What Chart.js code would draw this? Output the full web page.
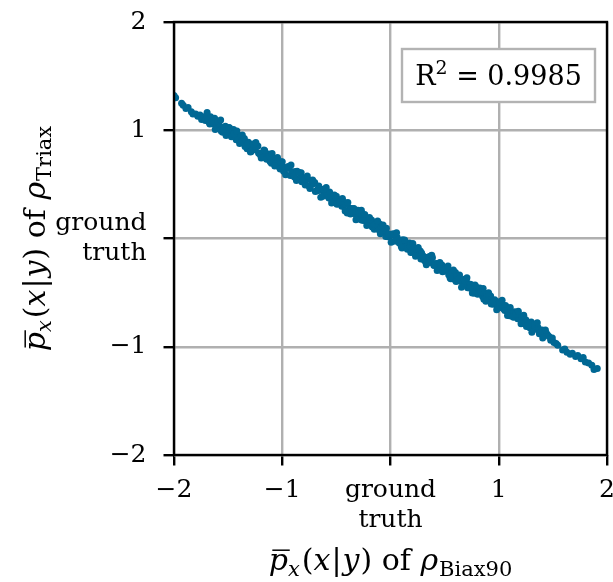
<!DOCTYPE html>
<html>
<head>
<meta charset="utf-8">
<script src="https://cdn.jsdelivr.net/npm/chart.js@4.4.1/dist/chart.umd.min.js"></script>
<style>
  html, body { margin: 0; padding: 0; background: #fff; }
  canvas { display: block; }
</style>
</head>
<body>
<canvas id="chart" width="613" height="582"></canvas>
<script>
// Valores do gráfico
const tickValues = [-2, -1, 0, 1, 2];
const tickLabels = ['\u22122', '\u22121', ['ground', 'truth'], '1', '2'];
const r2Label = '0.9985';

// cauda esquerda (pontos esparsos)
const tailLeftX = [-2.00, -1.985, -1.93, -1.915, -1.89, -1.87, -1.84, -1.825, -1.80, -1.78, -1.76, -1.745, -1.725, -1.71];
const tailLeftY = [1.32, 1.30, 1.25, 1.23, 1.20, 1.21, 1.17, 1.15, 1.15, 1.13, 1.14, 1.10, 1.12, 1.09];

// faixa densa, parte A
const bandAX = [
  -1.700, -1.675, -1.650, -1.625, -1.600, -1.575, -1.550, -1.525, -1.500, -1.475,
  -1.450, -1.425, -1.400, -1.375, -1.350, -1.325, -1.300, -1.275, -1.250, -1.225,
  -1.200, -1.175, -1.150, -1.125, -1.100, -1.075, -1.050, -1.025, -1.000, -0.975,
  -0.950, -0.925, -0.900, -0.875, -0.850, -0.825, -0.800, -0.775, -0.750, -0.725,
  -0.700, -0.675, -0.650, -0.625, -0.600, -0.575, -0.550, -0.525, -0.500, -0.475,
  -0.450, -0.425, -0.400, -0.375, -0.350, -0.325, -0.300, -0.275, -0.250, -0.225,
  -0.200, -0.175, -0.150, -0.125, -0.100, -0.075, -0.050, -0.025, 0.000, 0.025,
  0.050, 0.075, 0.100, 0.125, 0.150, 0.175, 0.200, 0.225, 0.250, 0.275,
  0.300, 0.325, 0.350, 0.375, 0.400, 0.425, 0.450, 0.475, 0.500, 0.525,
  0.550, 0.575, 0.600, 0.625, 0.650, 0.675, 0.700, 0.725, 0.750, 0.775,
  0.800, 0.825, 0.850, 0.875, 0.900, 0.925, 0.950, 0.975, 1.000, 1.025,
  1.050, 1.075, 1.100, 1.125, 1.150, 1.175, 1.200, 1.225, 1.250, 1.275,
  1.300, 1.325, 1.350, 1.375, 1.400, 1.425, 1.450
];
const bandAY = [
  1.138, 1.072, 1.096, 1.110, 1.034, 1.038, 0.982, 1.036, 0.980, 0.994,
  1.008, 0.912, 0.936, 0.890, 0.924, 0.828, 0.862, 0.866, 0.820, 0.854,
  0.768, 0.792, 0.746, 0.780, 0.694, 0.738, 0.702, 0.656, 0.710, 0.644,
  0.658, 0.582, 0.616, 0.620, 0.554, 0.608, 0.532, 0.546, 0.480, 0.504,
  0.518, 0.442, 0.446, 0.390, 0.444, 0.388, 0.402, 0.336, 0.390, 0.344,
  0.298, 0.332, 0.236, 0.280, 0.274, 0.228, 0.262, 0.176, 0.190, 0.194,
  0.138, 0.172, 0.086, 0.120, 0.134, 0.068, 0.082, 0.016, 0.040, 0.044,
  -0.022, -0.018, -0.074, -0.030, -0.076, -0.042, -0.128, -0.104, -0.150, -0.116,
  -0.162, -0.218, -0.174, -0.160, -0.246, -0.232, -0.288, -0.244, -0.300, -0.286,
  -0.362, -0.328, -0.314, -0.390, -0.386, -0.432, -0.388, -0.444, -0.430, -0.506,
  -0.472, -0.458, -0.534, -0.510, -0.556, -0.532, -0.608, -0.584, -0.630, -0.586,
  -0.652, -0.638, -0.714, -0.680, -0.676, -0.742, -0.738, -0.784, -0.750, -0.796,
  -0.772, -0.838, -0.824, -0.880, -0.846, -0.892, -0.888
];

// faixa densa, parte B
const bandBX = [
  -1.6875, -1.6625, -1.6375, -1.6125, -1.5875, -1.5625, -1.5375, -1.5125, -1.4875, -1.4625,
  -1.4375, -1.4125, -1.3875, -1.3625, -1.3375, -1.3125, -1.2875, -1.2625, -1.2375, -1.2125,
  -1.1875, -1.1625, -1.1375, -1.1125, -1.0875, -1.0625, -1.0375, -1.0125, -0.9875, -0.9625,
  -0.9375, -0.9125, -0.8875, -0.8625, -0.8375, -0.8125, -0.7875, -0.7625, -0.7375, -0.7125,
  -0.6875, -0.6625, -0.6375, -0.6125, -0.5875, -0.5625, -0.5375, -0.5125, -0.4875, -0.4625,
  -0.4375, -0.4125, -0.3875, -0.3625, -0.3375, -0.3125, -0.2875, -0.2625, -0.2375, -0.2125,
  -0.1875, -0.1625, -0.1375, -0.1125, -0.0875, -0.0625, -0.0375, -0.0125, 0.0125, 0.0375,
  0.0625, 0.0875, 0.1125, 0.1375, 0.1625, 0.1875, 0.2125, 0.2375, 0.2625, 0.2875,
  0.3125, 0.3375, 0.3625, 0.3875, 0.4125, 0.4375, 0.4625, 0.4875, 0.5125, 0.5375,
  0.5625, 0.5875, 0.6125, 0.6375, 0.6625, 0.6875, 0.7125, 0.7375, 0.7625, 0.7875,
  0.8125, 0.8375, 0.8625, 0.8875, 0.9125, 0.9375, 0.9625, 0.9875, 1.0125, 1.0375,
  1.0625, 1.0875, 1.1125, 1.1375, 1.1625, 1.1875, 1.2125, 1.2375, 1.2625, 1.2875,
  1.3125, 1.3375, 1.3625, 1.3875, 1.4125, 1.4375
];
const bandBY = [
  1.100, 1.124, 1.058, 1.062, 1.066, 0.990, 1.024, 0.968, 1.022, 0.956,
  0.970, 0.914, 0.948, 0.912, 0.856, 0.890, 0.804, 0.848, 0.852, 0.786,
  0.790, 0.814, 0.748, 0.712, 0.746, 0.690, 0.704, 0.708, 0.622, 0.646,
  0.650, 0.604, 0.568, 0.622, 0.546, 0.560, 0.494, 0.548, 0.492, 0.506,
  0.440, 0.484, 0.448, 0.402, 0.406, 0.430, 0.344, 0.368, 0.322, 0.356,
  0.300, 0.314, 0.238, 0.272, 0.276, 0.210, 0.234, 0.168, 0.222, 0.156,
  0.150, 0.104, 0.138, 0.082, 0.116, 0.060, 0.094, 0.018, 0.032, -0.024,
  0.010, -0.026, -0.012, -0.078, -0.064, -0.130, -0.086, -0.092, -0.148, -0.134,
  -0.200, -0.176, -0.222, -0.178, -0.234, -0.280, -0.246, -0.292, -0.268, -0.334,
  -0.320, -0.376, -0.342, -0.338, -0.404, -0.400, -0.456, -0.422, -0.478, -0.444,
  -0.500, -0.506, -0.562, -0.508, -0.544, -0.590, -0.566, -0.632, -0.608, -0.644,
  -0.620, -0.686, -0.682, -0.728, -0.694, -0.740, -0.716, -0.782, -0.768, -0.824,
  -0.790, -0.836, -0.822, -0.878, -0.874, -0.870
];

// faixa densa, parte C (bordas da faixa)
const bandCX = [
  -1.694, -1.669, -1.644, -1.619, -1.594, -1.569, -1.544, -1.519, -1.494, -1.469,
  -1.444, -1.419, -1.394, -1.369, -1.344, -1.319, -1.294, -1.269, -1.244, -1.219,
  -1.194, -1.169, -1.144, -1.119, -1.094, -1.069, -1.044, -1.019, -0.994, -0.969,
  -0.944, -0.919, -0.894, -0.869, -0.844, -0.819, -0.794, -0.769, -0.744, -0.719,
  -0.694, -0.669, -0.644, -0.619, -0.594, -0.569, -0.544, -0.519, -0.494, -0.469,
  -0.444, -0.419, -0.394, -0.369, -0.344, -0.319, -0.294, -0.269, -0.244, -0.219,
  -0.194, -0.169, -0.144, -0.119, -0.094, -0.069, -0.044, -0.019, 0.006, 0.031,
  0.056, 0.081, 0.106, 0.131, 0.156, 0.181, 0.206, 0.231, 0.256, 0.281,
  0.306, 0.331, 0.356, 0.381, 0.406, 0.431, 0.456, 0.481, 0.506, 0.531,
  0.556, 0.581, 0.606, 0.631, 0.656, 0.681, 0.706, 0.731, 0.756, 0.781,
  0.806, 0.831, 0.856, 0.881, 0.906, 0.931, 0.956, 0.981, 1.006, 1.031,
  1.056, 1.081, 1.106, 1.131, 1.156, 1.181, 1.206, 1.231, 1.256, 1.281,
  1.306, 1.331, 1.356, 1.381, 1.406, 1.431
];
const bandCY = [
  1.164, 1.058, 1.082, 1.006, 1.080, 1.094, 0.998, 0.952, 1.026, 0.940,
  0.964, 0.993, 0.877, 0.956, 0.850, 0.874, 0.798, 0.872, 0.886, 0.790,
  0.744, 0.818, 0.732, 0.756, 0.785, 0.669, 0.748, 0.642, 0.666, 0.590,
  0.664, 0.678, 0.582, 0.536, 0.610, 0.524, 0.548, 0.577, 0.461, 0.540,
  0.434, 0.458, 0.382, 0.456, 0.470, 0.374, 0.328, 0.402, 0.316, 0.340,
  0.369, 0.253, 0.332, 0.226, 0.250, 0.174, 0.248, 0.262, 0.166, 0.120,
  0.194, 0.108, 0.132, 0.161, 0.045, 0.124, 0.018, 0.042, -0.034, 0.040,
  0.054, -0.042, -0.088, -0.014, -0.100, -0.076, -0.047, -0.163, -0.084, -0.190,
  -0.166, -0.242, -0.168, -0.154, -0.250, -0.296, -0.222, -0.308, -0.284, -0.255,
  -0.371, -0.292, -0.398, -0.374, -0.450, -0.376, -0.362, -0.458, -0.504, -0.430,
  -0.516, -0.492, -0.463, -0.579, -0.500, -0.606, -0.582, -0.658, -0.584, -0.570,
  -0.666, -0.712, -0.638, -0.724, -0.700, -0.671, -0.787, -0.708, -0.814, -0.790,
  -0.866, -0.792, -0.778, -0.874, -0.920, -0.846
];

// cauda direita
const tailRightX = [1.465, 1.48, 1.495, 1.51, 1.53, 1.545, 1.59, 1.61, 1.63, 1.66, 1.68, 1.71, 1.73, 1.76, 1.78, 1.80, 1.83, 1.86, 1.88, 1.91];
const tailRightY = [-0.905, -0.94, -0.92, -0.96, -0.97, -0.985, -1.03, -1.02, -1.05, -1.07, -1.06, -1.09, -1.08, -1.11, -1.10, -1.14, -1.15, -1.17, -1.21, -1.20];

const FONT = '"DejaVu Serif", serif';
const TICK_SIZE = 25;
const TITLE_SIZE = 30;
const LEGEND_SIZE = 27;

function toPoints(xs, ys) {
    return xs.map((x, i) => ({ x: x, y: ys[i] }));
}

const points = [].concat(
    toPoints(tailLeftX, tailLeftY),
    toPoints(bandAX, bandAY),
    toPoints(bandBX, bandBY),
    toPoints(bandCX, bandCY),
    toPoints(tailRightX, tailRightY)
);

// Desenha texto "matemático" com itálico, subscrito e sobrescrito
function partFont(p, size) {
    const s = (p.sub || p.sup) ? size * 0.7 : size;
    return (p.i ? 'italic ' : '') + s + 'px ' + FONT;
}

function drawMath(ctx, parts, x, y, size) {
    let w = 0;
    parts.forEach(p => { ctx.font = partFont(p, size); w += ctx.measureText(p.t).width + (p.gap || 0); });
    let cx = x - w / 2;
    ctx.fillStyle = '#000';
    ctx.textAlign = 'left';
    ctx.textBaseline = 'alphabetic';
    parts.forEach(p => {
        ctx.font = partFont(p, size);
        const dy = p.sub ? size * 0.2 : (p.sup ? -size * 0.4 : 0);
        const tw = ctx.measureText(p.t).width;
        ctx.fillText(p.t, cx, y + dy);
        if (p.bar) {
            ctx.save();
            ctx.strokeStyle = '#000';
            ctx.lineWidth = 1.5;
            ctx.beginPath();
            ctx.moveTo(cx + size * 0.12, y - size * 0.66);
            ctx.lineTo(cx + tw + size * 0.06, y - size * 0.66);
            ctx.stroke();
            ctx.restore();
        }
        cx += tw + (p.gap || 0);
    });
}

function axisTitle(sub) {
    return [
        { t: 'p', i: 1, bar: 1 }, { t: 'x', i: 1, sub: 1, gap: 2 },
        { t: '(' }, { t: 'x', i: 1, gap: 1 }, { t: '|', gap: 1 }, { t: 'y', i: 1, gap: 1 }, { t: ')' },
        { t: ' of ' }, { t: '\u03c1', i: 1, gap: 1 }, { t: sub, sub: 1 }
    ];
}

const extrasPlugin = {
    id: 'extras',
    afterDatasetsDraw(chart) {
        const ctx = chart.ctx;
        const a = chart.chartArea;
        ctx.save();
        // moldura preta
        ctx.strokeStyle = '#000';
        ctx.lineWidth = 2.4;
        ctx.strokeRect(a.left, a.top, a.right - a.left, a.bottom - a.top);

        // caixa do R²
        ctx.fillStyle = '#fff';
        ctx.fillRect(402, 49, 193, 53);
        ctx.strokeStyle = '#b3b3b3';
        ctx.lineWidth = 2.4;
        ctx.strokeRect(402, 49, 193, 53);
        drawMath(ctx, [{ t: 'R' }, { t: '2', sup: 1 }, { t: ' = ' + r2Label }], 498.5, 85, LEGEND_SIZE);

        // títulos dos eixos
        drawMath(ctx, axisTitle('Biax90'), (a.left + a.right) / 2, 570, TITLE_SIZE);
        ctx.translate(45, (a.top + a.bottom) / 2);
        ctx.rotate(-Math.PI / 2);
        drawMath(ctx, axisTitle('Triax'), 0, 0, TITLE_SIZE);
        ctx.restore();
    }
};

function axisOptions(isX) {
    return {
        type: 'linear',
        min: -2,
        max: 2,
        afterBuildTicks(scale) {
            scale.ticks = tickValues.map(v => ({ value: v }));
        },
        afterFit(scale) {
            if (isX) {
                scale.height = 127;
                scale.paddingLeft = 0;
                scale.paddingRight = 0;
            } else {
                scale.width = 174;
                scale.paddingTop = 0;
                scale.paddingBottom = 0;
            }
        },
        ticks: {
            autoSkip: false,
            maxRotation: 0,
            color: '#000',
            padding: isX ? 10 : 17,
            font: { family: FONT, size: TICK_SIZE, lineHeight: 1.2 },
            callback: (v) => tickLabels[tickValues.indexOf(v)]
        },
        grid: {
            color: '#b0b0b0',
            lineWidth: 2.4,
            tickColor: '#000',
            tickWidth: 2.4,
            tickLength: 10.5
        },
        border: { display: false }
    };
}

new Chart(document.getElementById('chart').getContext('2d'), {
    type: 'scatter',
    data: {
        datasets: [{
            data: points,
            backgroundColor: '#006894',
            borderWidth: 0,
            pointRadius: 3.5
        }]
    },
    options: {
        responsive: false,
        animation: false,
        layout: { padding: { top: 22, right: 6, left: 0, bottom: 0 } },
        plugins: { legend: { display: false }, tooltip: { enabled: false } },
        scales: { x: axisOptions(true), y: axisOptions(false) }
    },
    plugins: [extrasPlugin]
});
</script>
</body>
</html>
